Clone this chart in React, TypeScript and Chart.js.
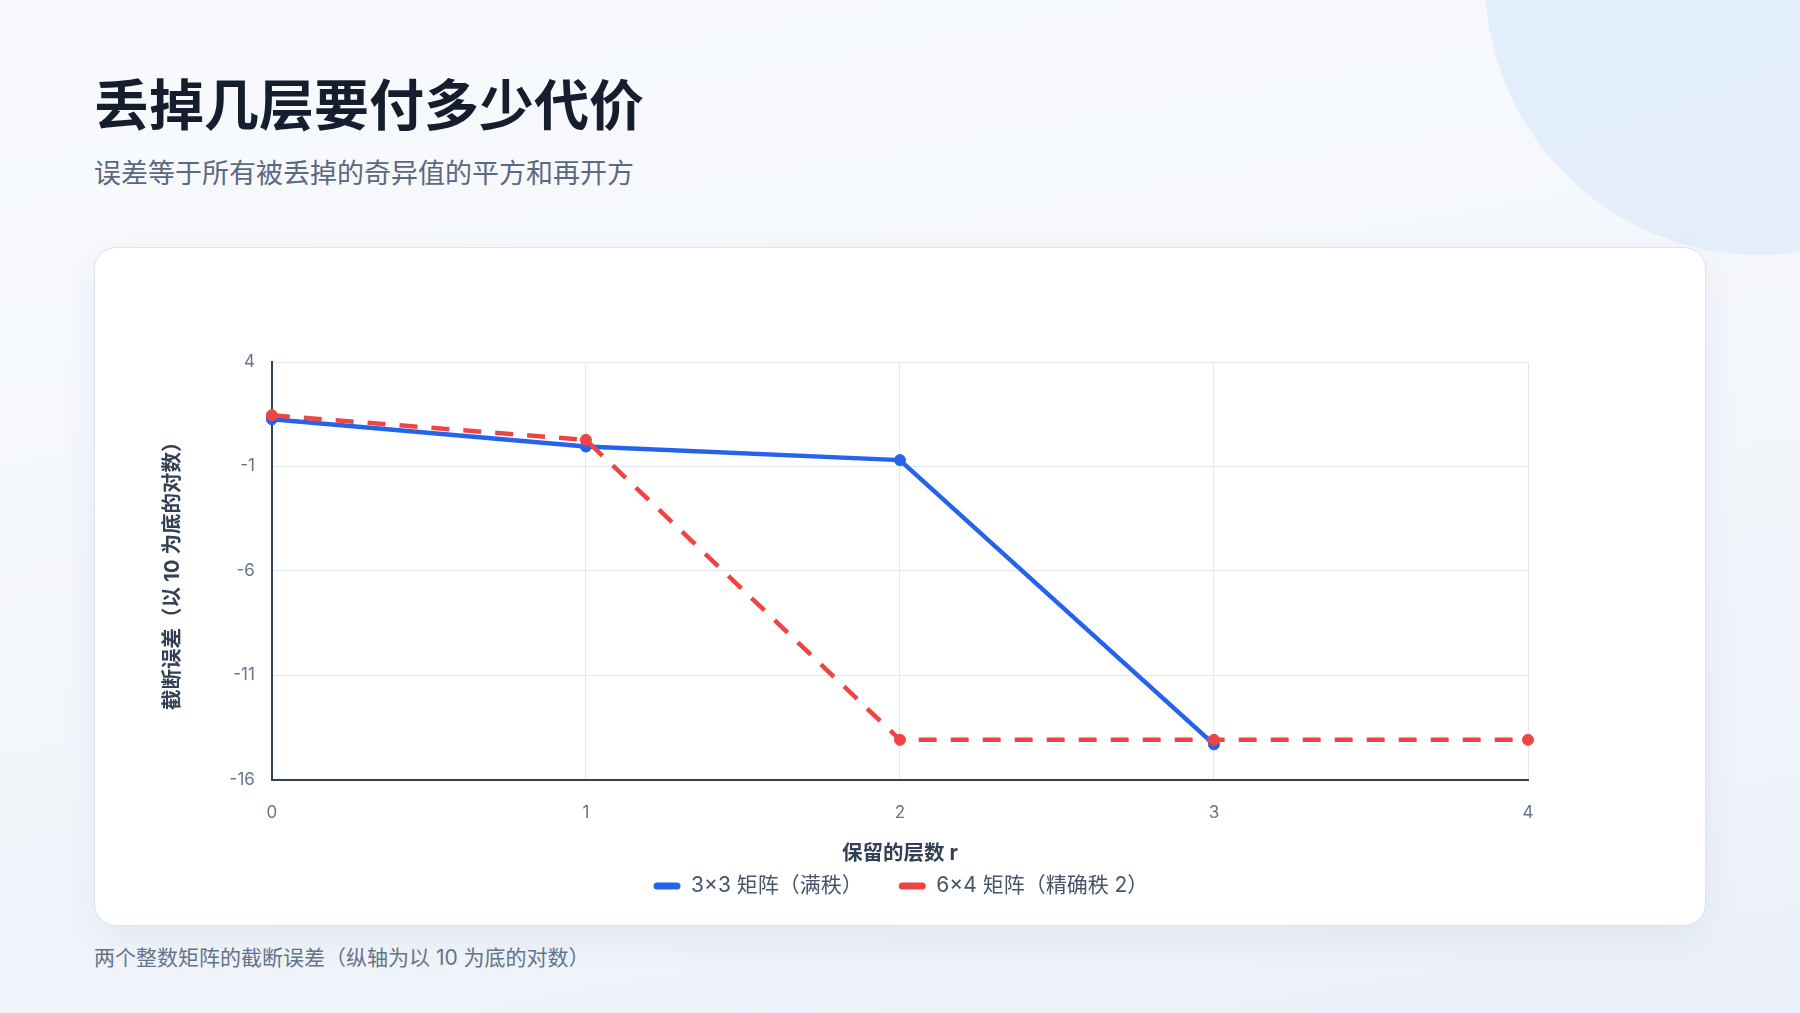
import React, { useEffect, useRef } from "react";
import { Chart, registerables } from "chart.js";

Chart.register(...registerables);

const layerLabels = ["0", "1", "2", "3", "4"];
const seriesNames = ["3×3 矩阵（满秩）", "6×4 矩阵（精确秩 2）"];
const fullRankLog = [1.26, -0.05, -0.7, -14.32];
const rankTwoLog = [1.45, 0.27, -14.1, -14.1, -14.1];
const yMin = -16;
const yMax = 4;
const yStep = 5;

const FONT = "Inter, 'Noto Sans CJK SC', 'Noto Sans', sans-serif";

const legendShift = {
  id: "legendShift",
  afterLayout(chart: any) {
    const l = chart.legend;
    if (l) {
      l.left += 1;
      l.right += 1;
    }
  },
};

function ChartCanvas() {
  const ref = useRef<HTMLCanvasElement | null>(null);
  useEffect(() => {
    if (!ref.current) return;
    const chart = new Chart(ref.current, {
      type: "line",
      data: {
        labels: layerLabels,
        datasets: [
          {
            label: seriesNames[0],
            data: fullRankLog,
            borderColor: "#2563eb",
            backgroundColor: "#2563eb",
            pointBackgroundColor: "#2563eb",
            pointBorderColor: "#2563eb",
            borderWidth: 4.5,
            pointRadius: 5.5,
            pointBorderWidth: 1,
            tension: 0,
            clip: false as any,
            order: 1,
          },
          {
            label: seriesNames[1],
            data: rankTwoLog,
            borderColor: "#ef4444",
            backgroundColor: "#ef4444",
            pointBackgroundColor: "#ef4444",
            pointBorderColor: "#ef4444",
            borderWidth: 4.5,
            borderDash: [18, 14],
            pointRadius: 5.5,
            pointBorderWidth: 1,
            tension: 0,
            clip: false as any,
            order: 0,
          },
        ],
      },
      plugins: [legendShift],
      options: {
        animation: false,
        responsive: true,
        maintainAspectRatio: false,
        layout: { padding: { top: 114, left: 61.5, right: 177, bottom: 18.5 } },
        plugins: {
          tooltip: { enabled: false },
          legend: {
            position: "bottom",
            fullSize: false,
            labels: {
              boxWidth: 27,
              boxHeight: 7,
              padding: 36,
              color: "#475569",
              font: { family: FONT, size: 21 },
              sort: (a: any, b: any) => a.datasetIndex - b.datasetIndex,
              generateLabels: (chart: any) => {
                const items = Chart.defaults.plugins.legend.labels.generateLabels(chart);
                return items.map((it: any) => ({
                  ...it,
                  fillStyle: it.strokeStyle,
                  lineWidth: 0,
                  lineDash: [],
                  borderRadius: 3.5,
                }));
              },
            },
          },
        },
        scales: {
          x: {
            type: "category",
            offset: false,
            grid: { color: "#e2e8f0", lineWidth: 1, drawTicks: false },
            border: { display: true, color: "#334155", width: 2 },
            ticks: {
              color: "#64748b",
              padding: 23.5,
              font: { family: FONT, size: 17 },
            },
            title: {
              display: true,
              text: "保留的层数 r",
              color: "#334155",
              font: { family: FONT, size: 20.5, weight: "bold" },
              padding: { top: -5, bottom: -27 },
            },
          },
          y: {
            type: "linear",
            min: yMin,
            max: yMax,
            grid: { color: "#e2e8f0", lineWidth: 1, drawTicks: false },
            border: { display: true, color: "#334155", width: 2 },
            ticks: {
              stepSize: yStep,
              color: "#64748b",
              padding: 17,
              font: { family: FONT, size: 17 },
            },
            title: {
              display: true,
              text: "截断误差（以 10 为底的对数）",
              color: "#334155",
              font: { family: FONT, size: 20.5, weight: "bold" },
              padding: { top: 4, bottom: 27.5 },
            },
          },
        },
      } as any,
    });
    return () => chart.destroy();
  }, []);
  return <canvas ref={ref} />;
}

export default function App() {
  return (
    <div
      style={{
        position: "fixed",
        inset: 0,
        width: 1800,
        height: 1013,
        overflow: "hidden",
        background: "linear-gradient(170deg, #f8fafd 0%, #f3f6fb 55%, #ebf0f8 100%)",
        fontFamily: FONT,
      }}
    >
      <div
        style={{
          position: "absolute",
          left: 1485,
          top: -295,
          width: 550,
          height: 550,
          borderRadius: "50%",
          background: "linear-gradient(160deg, #e2eefd 0%, #e5eefb 100%)",
        }}
      />
      <div
        style={{
          position: "absolute",
          left: 94,
          top: 78,
          fontSize: 55,
          lineHeight: "55px",
          fontWeight: 700,
          color: "#151e2e",
          whiteSpace: "nowrap",
        }}
      >
        丢掉几层要付多少代价
      </div>
      <div
        style={{
          position: "absolute",
          left: 94,
          top: 160,
          fontSize: 27,
          lineHeight: "27px",
          color: "#5a6880",
          whiteSpace: "nowrap",
        }}
      >
        误差等于所有被丢掉的奇异值的平方和再开方
      </div>
      <div
        style={{
          position: "absolute",
          left: 94,
          top: 247,
          width: 1612,
          height: 679,
          boxSizing: "border-box",
          background: "#ffffff",
          border: "1px solid #dbe3ee",
          borderRadius: 22,
          boxShadow: "0 12px 36px rgba(20, 45, 95, 0.06)",
        }}
      >
        <div style={{ position: "absolute", left: 0, top: 0, width: 1610, height: 677 }}>
          <ChartCanvas />
        </div>
      </div>
      <div
        style={{
          position: "absolute",
          left: 94,
          top: 947,
          fontSize: 21,
          lineHeight: "21px",
          color: "#64748b",
          whiteSpace: "nowrap",
        }}
      >
        两个整数矩阵的截断误差（纵轴为以 10 为底的对数）
      </div>
    </div>
  );
}
